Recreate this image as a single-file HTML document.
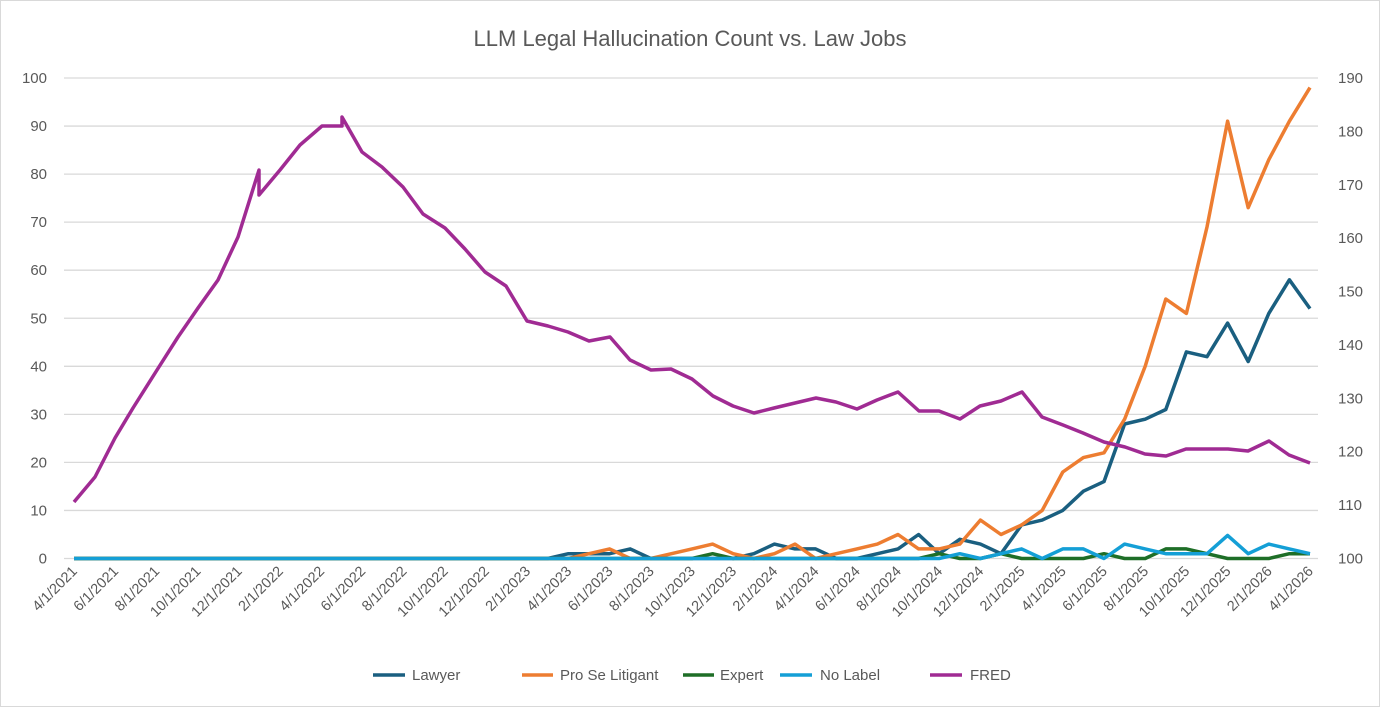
<!DOCTYPE html>
<html><head><meta charset="utf-8">
<style>
html,body{margin:0;padding:0;background:#fff;}
svg{display:block;font-family:"Liberation Sans",sans-serif;}
</style></head>
<body>
<svg id="c" width="1380" height="707" viewBox="0 0 1380 707" xmlns="http://www.w3.org/2000/svg">
<rect x="0.5" y="0.5" width="1379" height="706" fill="#fff" stroke="#d9d9d9"/>
<text x="690" y="46" text-anchor="middle" font-size="22" fill="#595959">LLM Legal Hallucination Count vs. Law Jobs</text>
<g id="grid"></g><g id="lab"></g><g id="ser"></g>
<g font-size="15" fill="#595959">
<line x1="373" y1="675" x2="405" y2="675" stroke="#1a5f80" stroke-width="3.5"/><text x="412" y="680">Lawyer</text>
<line x1="522" y1="675" x2="553" y2="675" stroke="#ed7d31" stroke-width="3.5"/><text x="560" y="680">Pro Se Litigant</text>
<line x1="683" y1="675" x2="714" y2="675" stroke="#1e6e27" stroke-width="3.5"/><text x="720" y="680">Expert</text>
<line x1="780" y1="675" x2="812" y2="675" stroke="#149fd6" stroke-width="3.5"/><text x="820" y="680">No Label</text>
<line x1="930" y1="675" x2="962" y2="675" stroke="#a02b93" stroke-width="3.5"/><text x="970" y="680">FRED</text>
</g>
</svg>
<script>
var NS="http://www.w3.org/2000/svg";
function el(p,t,a,txt){var e=document.createElementNS(NS,t);for(var k in a)e.setAttribute(k,a[k]);if(txt!=null)e.textContent=txt;document.getElementById(p).appendChild(e);return e;}
var y0=558.5,py=4.805;
for(var v=0;v<=100;v+=10){var y=y0-v*py;
 el("grid","line",{x1:64,x2:1318,y1:y,y2:y,stroke:"#d9d9d9","stroke-width":1.3});
 el("lab","text",{x:47,y:y+5,"text-anchor":"end","font-size":15,fill:"#595959"},v);
}
for(var r=100;r<=190;r+=10){var y=y0-(r-100)*py*100/90;
 el("lab","text",{x:1338,y:y+5,"font-size":15,fill:"#595959"},r);}
function X(i){return 74+20.6*i;}
for(var i=0;i<=60;i+=2){var m=3+i,yr=2021+Math.floor(m/12),mo=m%12+1;
 var x=X(i);el("lab","text",{x:x+4,y:572,"text-anchor":"end","font-size":14.5,fill:"#595959",transform:"rotate(-45 "+(x+4)+" 572)"},mo+"/1/"+yr);}
function arr(o){var a=[];for(var i=0;i<=60;i++)a.push(o[i]||0);return a;}
var lawyer=arr({24:1,25:1,26:1,27:2,33:1,34:3,35:2,36:2,39:1,40:2,41:5,42:1,43:4,44:3,45:1,46:7,47:8,48:10,49:14,50:16,51:28,52:29,53:31,54:43,55:42,56:49,57:41,58:51,59:58,60:52});
var prose=arr({25:1,26:2,29:1,30:2,31:3,32:1,34:1,35:3,37:1,38:2,39:3,40:5,41:2,42:2,43:3,44:8,45:5,46:7,47:10,48:18,49:21,50:22,51:29,52:40,53:54,54:51,55:69,56:91,57:73,58:83,59:91,60:98});
var expert=arr({31:1,42:1,45:1,50:1,53:2,54:2,55:1,59:1,60:1});
var nolab=arr({43:1,45:1,46:2,48:2,49:2,51:3,52:2,53:1,54:1,55:1,56:4.8,57:1,58:3,59:2,60:1});
function line(d,c){var p=d.map(function(v,i){return X(i).toFixed(1)+","+(y0-v*py).toFixed(1)}).join(" ");
 el("ser","polyline",{points:p,fill:"none",stroke:c,"stroke-width":3.5,"stroke-linejoin":"round"});}
line(lawyer,"#1a5f80");line(prose,"#ed7d31");line(expert,"#1e6e27");line(nolab,"#149fd6");
var fred="74,502 95,477 115,438 133,408 157,370 178,337 198,308 218,280 238,237 259,170 259,195 280,170 300,145 322,126 342,126 342,117 362,152 382,167 403,187 423,214 445,228 465,249 485,272 506,286 527,321 548,326 568,332 589,341 610,337 630,360 651,370 671,369 692,379 713,396 733,406 754,413 774,408 795,403 816,398 836,402 857,409 877,400 898,392 919,411 939,411 960,419 980,406 1001,401 1022,392 1042,417 1063,425 1083,433 1104,442 1125,447 1145,454 1166,456 1186,449 1207,449 1228,449 1248,451 1269,441 1289,455 1310,463";
el("ser","polyline",{points:fred,fill:"none",stroke:"#a02b93","stroke-width":3.5,"stroke-linejoin":"round"});
</script>
</body></html>
